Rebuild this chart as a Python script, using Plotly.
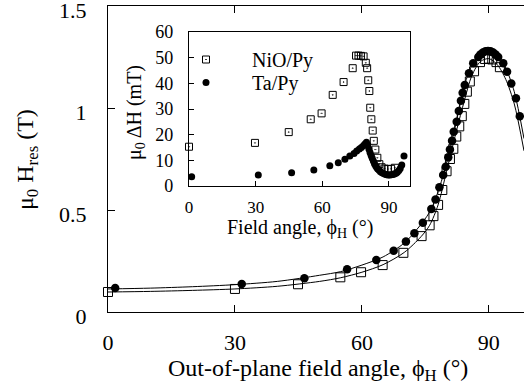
import plotly.graph_objects as go

# ---------------- data ----------------
# Main panel: resonance field vs out-of-plane angle
ta_main_x = [1.7, 31.6, 46.4, 56.5, 63.4, 67.5, 70.4, 72.4, 74.4, 76.4, 77.4, 78.3, 79.2, 79.8,
             80.4, 80.8, 81.3, 81.7, 82.4, 82.9, 83.4, 83.8, 84.3, 85.3, 86.3, 87.5, 88.0, 88.6,
             89.2, 89.8, 90.4, 91.0, 91.6, 92.2, 93.4, 94.3, 95.3, 96.4, 97.3]
ta_main_y = [0.118, 0.137, 0.165, 0.209, 0.255, 0.300, 0.345, 0.386, 0.438, 0.505, 0.552, 0.611,
             0.672, 0.712, 0.758, 0.797, 0.840, 0.884, 0.933, 0.985, 1.036, 1.075, 1.113, 1.170,
             1.219, 1.250, 1.262, 1.272, 1.278, 1.280, 1.278, 1.272, 1.262, 1.250, 1.219, 1.178,
             1.120, 1.048, 0.960]

nio_main_x = [0.0, 30.0, 44.9, 54.9, 59.8, 64.9, 69.8, 74.1, 76.0, 76.9, 78.0, 79.0, 80.0, 80.8,
              81.6, 82.3, 83.0, 83.6, 84.2, 84.8, 85.5, 86.5, 87.9, 89.1, 90.0, 90.8, 91.8, 92.6]
nio_main_y = [0.098, 0.113, 0.136, 0.170, 0.195, 0.230, 0.290, 0.372, 0.425, 0.470, 0.525, 0.598,
              0.690, 0.750, 0.800, 0.860, 0.910, 0.960, 1.020, 1.080, 1.130, 1.180, 1.225, 1.240,
              1.242, 1.238, 1.225, 1.200]

ta_fit_x = [0, 10, 20, 30, 40, 50, 55, 60, 65, 70, 73, 76, 78, 80, 82, 84, 86, 88, 90, 92, 94, 96, 98.3]
ta_fit_y = [0.113, 0.117, 0.124, 0.134, 0.150, 0.180, 0.198, 0.230, 0.270, 0.338, 0.405, 0.490,
            0.590, 0.730, 0.905, 1.095, 1.210, 1.265, 1.280, 1.258, 1.195, 1.080, 0.850]

nio_fit_x = [0, 10, 20, 30, 40, 50, 55, 60, 65, 70, 74, 76, 78, 80, 82, 84, 86, 88, 90, 92, 94, 96, 98.3]
nio_fit_y = [0.098, 0.101, 0.106, 0.113, 0.126, 0.150, 0.168, 0.195, 0.232, 0.292, 0.370, 0.425,
             0.525, 0.690, 0.860, 1.020, 1.160, 1.228, 1.242, 1.212, 1.140, 1.020, 0.790]

# Inset: linewidth vs field angle
nio_inset_x = [0.0, 29.7, 44.9, 54.8, 59.7, 64.7, 69.6, 73.7, 75.2, 76.3, 77.4, 78.6, 79.6, 80.2,
               80.7, 81.2, 81.6, 82.1, 82.7, 83.2, 83.9, 84.8, 85.7, 86.7, 88.0, 89.5, 91.0, 92.7]
nio_inset_dh = [15.3, 16.8, 21.0, 26.0, 28.3, 35.5, 40.5, 45.9, 50.8, 50.8, 50.7, 50.5, 48.0, 45.9,
                41.2, 37.0, 30.5, 26.0, 21.6, 17.6, 14.2, 11.0, 8.5, 7.3, 6.8, 6.6, 6.7, 7.1]

ta_inset_x = [1.2, 31.2, 46.2, 56.2, 63.4, 67.2, 70.2, 72.4, 74.3, 75.5, 76.7, 77.6, 78.5, 79.2,
              79.9, 80.5, 81.0, 81.5, 82.0, 82.5, 83.0, 83.5, 84.0, 84.5, 85.0, 85.6, 86.2, 86.9,
              87.6, 88.3, 89.0, 89.7, 90.4, 91.1, 91.8, 92.5, 93.2, 93.8, 94.5, 95.1, 95.8, 96.8]
ta_inset_dh = [3.6, 4.3, 5.2, 6.2, 7.9, 9.1, 10.4, 11.7, 12.7, 13.6, 14.4, 15.0, 15.7, 16.4,
               17.0, 16.0, 14.4, 13.1, 11.9, 10.8, 9.7, 8.7, 7.9, 7.2, 6.6, 6.1, 5.6, 5.2,
               4.9, 4.6, 4.4, 4.3, 4.3, 4.4, 4.5, 4.7, 5.0, 5.4, 6.0, 6.8, 8.2, 11.7]

main_xticks = [0, 30, 60, 90]
main_yticks = [0, 0.5, 1, 1.5]
main_yticktext = ["0", "0.5", "1", "1.5"]
inset_xticks = [0, 30, 60, 90]
inset_yticks = [0, 10, 20, 30, 40, 50, 60]

# ---------------- layout geometry ----------------
W, H = 524, 391
L, R, T, B = 108, 0, 6, 79
PW, PH = W - L - R, H - T - B


def px(xp):
    return (xp - L) / PW


def py(yp):
    return (H - B - yp) / PH


FONT = "'Liberation Serif', 'Times New Roman', serif"
BLACK = "black"

fig = go.Figure()

# main fits
fig.add_trace(go.Scatter(x=nio_fit_x, y=nio_fit_y, mode="lines",
                         line=dict(color=BLACK, width=1, shape="spline", smoothing=0.8),
                         showlegend=False, hoverinfo="skip"))
fig.add_trace(go.Scatter(x=ta_fit_x, y=ta_fit_y, mode="lines",
                         line=dict(color=BLACK, width=1, shape="spline", smoothing=0.8),
                         showlegend=False, hoverinfo="skip"))
# main data
fig.add_trace(go.Scatter(x=nio_main_x, y=nio_main_y, mode="markers", cliponaxis=False,
                         marker=dict(symbol="square-open", size=9, color=BLACK, line=dict(width=1)),
                         showlegend=False))
fig.add_trace(go.Scatter(x=ta_main_x, y=ta_main_y, mode="markers", cliponaxis=False,
                         marker=dict(symbol="circle", size=8.5, color=BLACK),
                         showlegend=False))

# inset data
fig.add_trace(go.Scatter(x=nio_inset_x, y=nio_inset_dh, mode="markers", name="NiO/Py",
                         xaxis="x2", yaxis="y2", cliponaxis=False, legend="legend",
                         marker=dict(symbol="square-open-dot", size=7, color=BLACK, line=dict(width=1))))
fig.add_trace(go.Scatter(x=ta_inset_x, y=ta_inset_dh, mode="markers", name="Ta/Py",
                         xaxis="x2", yaxis="y2", cliponaxis=False, legend="legend2",
                         marker=dict(symbol="circle", size=7, color=BLACK)))

# a dummy trace so the top axis is rendered
fig.add_trace(go.Scatter(x=[None], y=[None], xaxis="x3", yaxis="y", showlegend=False))

axis_common = dict(showline=True, linecolor=BLACK, linewidth=1.3, ticks="inside",
                   tickcolor=BLACK, tickwidth=1, showgrid=False, zeroline=False,
                   automargin=False, ticklabeloverflow="allow")

legend_common = dict(xanchor="left", yanchor="top", bgcolor="rgba(0,0,0,0)",
                     font=dict(size=20, family=FONT), itemwidth=82, borderwidth=0)

fig.update_layout(
    template="none",
    width=W, height=H,
    margin=dict(l=L, r=R, t=T, b=B, pad=0, autoexpand=False),
    paper_bgcolor="white", plot_bgcolor="white",
    font=dict(family=FONT, color=BLACK, size=22),
    xaxis=dict(domain=[0, 1], range=[0, 98.3], tickvals=main_xticks, ticklen=7,
               ticklabelstandoff=10, tickfont=dict(size=22, family=FONT), anchor="y", **axis_common),
    yaxis=dict(domain=[0, 1], range=[0, 1.5], tickvals=main_yticks, ticktext=main_yticktext,
               ticklen=7, ticklabelstandoff=16, ticklabelshift=4, tickfont=dict(size=22, family=FONT),
               anchor="x", **axis_common),
    xaxis3=dict(overlaying="x", side="top", range=[0, 98.3], tickvals=main_xticks, ticklen=7,
                showticklabels=False, anchor="y", **axis_common),
    xaxis2=dict(domain=[px(189), px(410)], range=[0, 99.5], tickvals=inset_xticks, ticklen=5,
                mirror=True, ticklabelstandoff=5, tickfont=dict(size=17, family=FONT), anchor="y2",
                **axis_common),
    yaxis2=dict(domain=[py(186), py(32)], range=[0, 60], tickvals=inset_yticks, ticklen=5,
                mirror=True, ticklabelstandoff=11, tickfont=dict(size=18, family=FONT), anchor="x2",
                **axis_common),
    legend=dict(x=px(160), y=py(40), **legend_common),
    legend2=dict(x=px(160), y=py(63), **legend_common),
    showlegend=True,
)

annotations = [
    dict(text="Out-of-plane field angle, ϕ<sub>H</sub> (°)", x=px(318), y=py(370),
         font=dict(size=24, family=FONT)),
    dict(text="μ<sub>0</sub> H<sub>res</sub> (T)", x=px(27), y=py(160), textangle=-90,
         font=dict(size=24, family=FONT)),
    dict(text="Field angle, ϕ<sub>H</sub> (°)", x=px(300), y=py(228), font=dict(size=20, family=FONT)),
    dict(text="μ<sub>0</sub> ΔH (mT)", x=px(135), y=py(113), textangle=-90,
         font=dict(size=20, family=FONT)),
]
for a in annotations:
    a.update(xref="paper", yref="paper", showarrow=False, xanchor="center", yanchor="middle")
fig.update_layout(annotations=annotations)

fig.write_html("out.html", config={"displayModeBar": False},
               post_script="document.body.style.margin='0';")
